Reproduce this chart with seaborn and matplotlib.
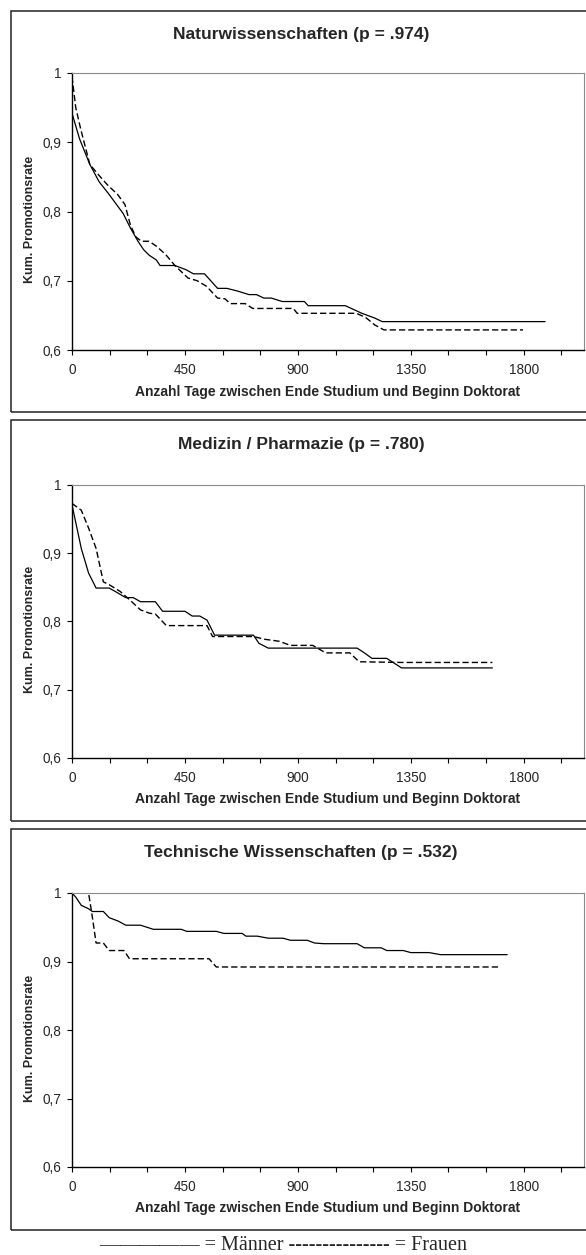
import pandas as pd
import matplotlib
matplotlib.use("Agg")
import matplotlib.pyplot as plt
import seaborn as sns
from matplotlib.patches import Rectangle
from matplotlib.ticker import MultipleLocator

# Kaplan-Meier curves (Tage, kum. Promotionsrate)
nat_m_tage = [0, 30, 71, 108, 145, 204, 233, 263, 285, 307, 336, 351, 410, 454, 484, 528, 580, 617,
              661, 705, 735, 764, 794, 838, 926, 941, 1089, 1155, 1207, 1236, 1885]
nat_m_rate = [.942, .905, .868, .843, .826, .797, .776, .757, .745, .737, .730, .722, .722, .716, .710,
              .710, .689, .689, .685, .680, .680, .675, .675, .670, .670, .664, .664, .653, .646, .641, .641]
nat_f_tage = [0, 15, 34, 71, 108, 145, 181, 211, 233, 255, 277, 307, 336, 373, 410, 462, 499, 536, 580,
              609, 631, 690, 720, 882, 897, 1133, 1170, 1207, 1243, 1797]
nat_f_rate = [.995, .950, .920, .868, .852, .837, .825, .810, .780, .763, .757, .757, .750, .738, .722,
              .704, .700, .692, .675, .674, .667, .667, .660, .660, .653, .653, .647, .636, .629, .629]

med_m_tage = [0, 37, 66, 96, 148, 177, 214, 244, 273, 332, 361, 450, 479, 509, 538, 568, 723, 745, 782,
              1136, 1165, 1195, 1254, 1313, 1675]
med_m_rate = [.971, .907, .871, .849, .849, .843, .835, .835, .829, .829, .815, .815, .808, .808, .802,
              .780, .780, .768, .761, .761, .754, .746, .746, .732, .732]
med_f_tage = [0, 37, 66, 96, 125, 148, 192, 229, 273, 310, 332, 376, 538, 560, 723, 767, 826, 870, 959,
              1011, 1107, 1144, 1313, 1675]
med_f_rate = [.973, .963, .937, .907, .858, .854, .844, .832, .817, .812, .811, .794, .794, .778, .778,
              .774, .771, .765, .765, .754, .754, .741, .740, .740]

tec_m_tage = [0, 15, 37, 66, 81, 125, 148, 184, 214, 273, 324, 435, 457, 575, 605, 678, 693, 738, 782,
              841, 870, 937, 966, 1003, 1136, 1165, 1232, 1254, 1320, 1350, 1423, 1468, 1734]
tec_m_rate = [1.0, .994, .982, .977, .973, .973, .964, .959, .953, .953, .947, .947, .944, .944, .941,
              .941, .937, .937, .934, .934, .931, .931, .927, .926, .926, .920, .920, .916, .916, .913,
              .913, .910, .910]
tec_f_tage = [0, 66, 81, 96, 125, 148, 207, 229, 546, 575, 1704]
tec_f_rate = [1.0, 1.0, .965, .927, .927, .916, .916, .904, .904, .892, .892]

titel = ["Naturwissenschaften (p = .974)", "Medizin / Pharmazie (p = .780)",
         "Technische Wissenschaften (p = .532)"]
y_ticks = [0.6, 0.7, 0.8, 0.9, 1.0]
y_tick_labels = ["0,6", "0,7", "0,8", "0,9", "1"]
x_ticks = [0, 450, 900, 1350, 1800]
x_tick_labels = ["0", "450", "900", "1350", "1800"]
x_label = "Anzahl Tage zwischen Ende Studium und Beginn Doktorat"
y_label = "Kum. Promotionsrate"
legende = "\u2014\u2014\u2014\u2014\u2014 = Männer " + "-" * 15 + " = Frauen"

kurven = [
    (nat_m_tage, nat_m_rate, nat_f_tage, nat_f_rate),
    (med_m_tage, med_m_rate, med_f_tage, med_f_rate),
    (tec_m_tage, tec_m_rate, tec_f_tage, tec_f_rate),
]

sns.set_style("white")
plt.rcParams['font.family'] = ['Liberation Sans', 'DejaVu Sans']

W, H = 586, 1255
fig = plt.figure(figsize=(W / 100, H / 100), dpi=100)

# pixel layout of the three panels: box top/bottom, axes top/bottom, title y
panels = [
    (11, 412, 73, 350, 34),
    (420, 821, 485, 758, 444),
    (829, 1230, 893, 1167, 853),
]
ax_left, ax_right = 72, 584

for (box_t, box_b, a_t, a_b, t_y), (mt, mr, ft, fr), ttl in zip(panels, kurven, titel):
    fig.patches.append(Rectangle((11 / W, 1 - box_b / H), (620 - 11) / W, (box_b - box_t) / H,
                                 fill=False, ec='#222222', lw=1.1, transform=fig.transFigure))
    ax = fig.add_axes([ax_left / W, 1 - a_b / H, (ax_right - ax_left) / W, (a_b - a_t) / H])
    df_m = pd.DataFrame({'Tage': mt, 'Rate': mr})
    df_f = pd.DataFrame({'Tage': ft, 'Rate': fr})
    sns.lineplot(data=df_m, x='Tage', y='Rate', ax=ax, color='black', lw=0.9,
                 estimator=None, sort=False)
    sns.lineplot(data=df_f, x='Tage', y='Rate', ax=ax, color='black', lw=1.0,
                 estimator=None, sort=False, dashes=False, linestyle=(0, (4.5, 2.2)))
    ax.set_xlim(0, 2040)
    ax.set_ylim(0.6, 1.0)
    ax.set_yticks(y_ticks)
    ax.set_yticklabels(y_tick_labels)
    ax.set_xticks(x_ticks)
    ax.set_xticklabels(x_tick_labels)
    ax.xaxis.set_minor_locator(MultipleLocator(150))
    ax.tick_params(axis='both', which='both', direction='out', length=3.5, width=0.8,
                   color='black', labelsize=9.8)
    ax.tick_params(axis='x', which='both', bottom=True, pad=6)
    ax.tick_params(axis='y', left=True, pad=4)
    for s in ['left', 'bottom']:
        ax.spines[s].set_color('black')
        ax.spines[s].set_linewidth(1.0)
    for s in ['top', 'right']:
        ax.spines[s].set_color('#8a8a8a')
        ax.spines[s].set_linewidth(0.8)
        ax.spines[s].set_linestyle((0, (1, 1)))
    ax.set_xlabel(x_label, fontsize=10, fontweight='bold')
    ax.xaxis.set_label_coords(0.5, -0.125)
    ax.set_ylabel(y_label, fontsize=9, fontweight='bold')
    ax.yaxis.set_label_coords(-0.07, 0.47)
    fig.text(301 / W, 1 - t_y / H, ttl, ha='center', va='center', fontsize=12.5, fontweight='bold')

fig.text(283 / W, 1 - 1246 / H, legende, ha='center', va='center', fontsize=14.5,
         family=['Liberation Serif', 'DejaVu Serif'])

fig.savefig('out.png', dpi=100)
